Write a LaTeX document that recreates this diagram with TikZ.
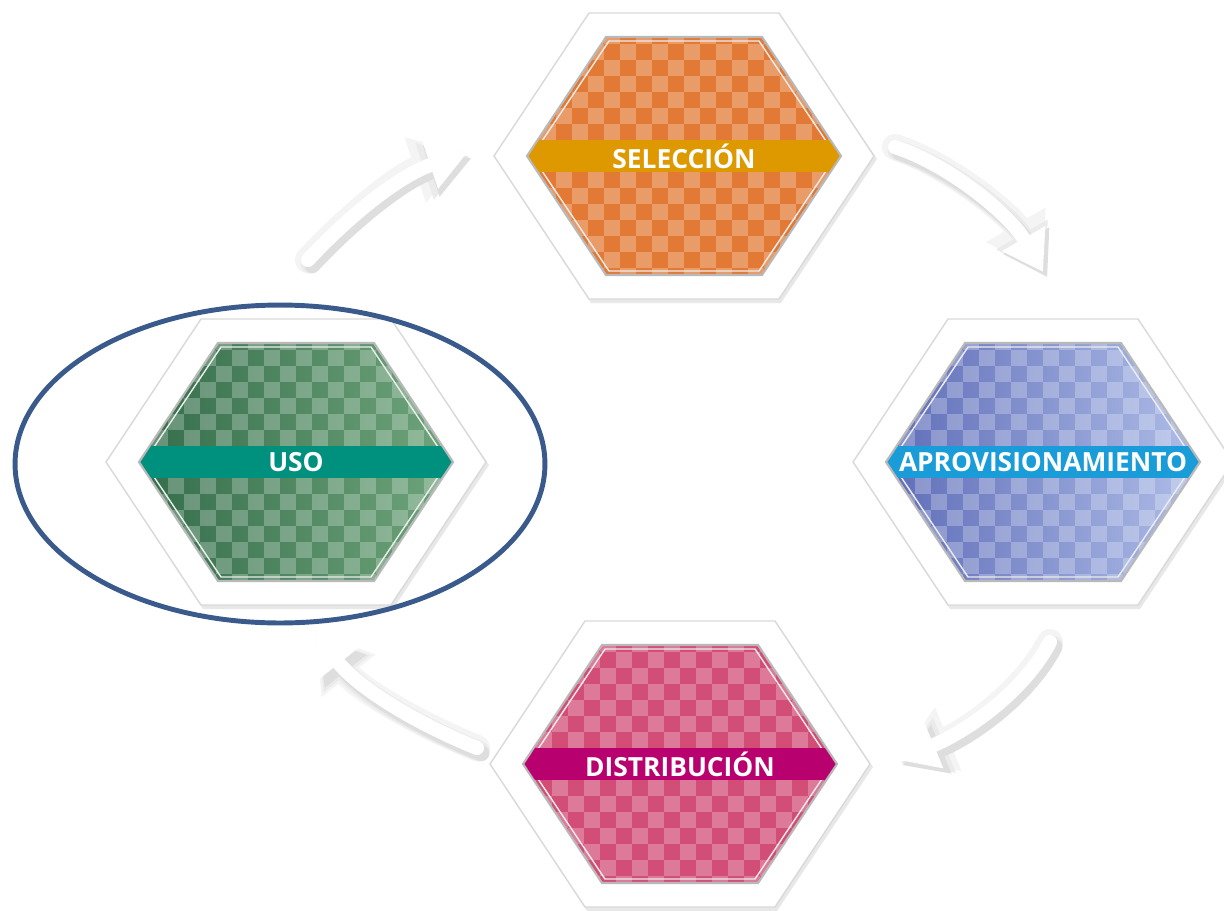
\documentclass[tikz,border=0pt]{standalone}
\usepackage{fontspec}
\setsansfont{Open Sans}
\usepackage{xcolor}
\usepackage{tikz}
\usetikzlibrary{shapes.geometric, arrows.meta, positioning}

\definecolor{naranja}{HTML}{E27A36}
\definecolor{naranjaB}{HTML}{DE9800}
\definecolor{azulL}{HTML}{5E6CB8}
\definecolor{azulR}{HTML}{AFBEE8}
\definecolor{azulB}{HTML}{1A9CD8}
\definecolor{verdeL}{HTML}{336C4A}
\definecolor{verdeR}{HTML}{70A67C}
\definecolor{verdeB}{HTML}{00907E}
\definecolor{rosa}{HTML}{D24E77}
\definecolor{rosaB}{HTML}{B8006E}
\definecolor{marco}{HTML}{3A5A8C}

% hexagon cell: name, center, left colour, right colour, band colour, label
\newcommand{\hexcelda}[6]{%
  \begin{scope}[shift={#2}]
    \fill[gray!18] (-188,3) -- (-93,147) -- (97,147) -- (193,3) -- (97,-140) -- (-93,-140) -- cycle;
    \filldraw[hexout] (-190,0) -- (-95,-143) -- (95,-143) -- (190,0) -- (95,143) -- (-95,143) -- cycle;
    \begin{scope}
      \clip (-157,0) -- (-78,-119) -- (78,-119) -- (157,0) -- (78,119) -- (-78,119) -- cycle;
      \shade[left color=#3, right color=#4] (-160,-128) rectangle (160,128);
      \foreach \i in {0,...,19} \foreach \j in {0,...,15} {
        \ifodd\numexpr\i+\j\relax
          \fill[white, fill opacity=0.25] ({-160+16*\i},{-128+16*\j}) rectangle +(16,16);
        \fi
      }
      \draw[white!85!gray, line width=0.8pt] (-152,0) -- (-75,-115) -- (75,-115) -- (152,0) -- (75,115) -- (-75,115) -- cycle;
      \fill[#5] (-160,-16) rectangle (160,16);
    \end{scope}
    \draw[hexin] (-157,0) -- (-78,-119) -- (78,-119) -- (157,0) -- (78,119) -- (-78,119) -- cycle;
    \node[etiqueta] (#1) at (0,0) {#6};
  \end{scope}}

\begin{document}
\begin{tikzpicture}[x=0.02cm, y=-0.02cm,
        hexout/.style={fill=white, draw=gray!30, line width=0.8pt},
        hexin/.style={draw=gray!55, line width=1.2pt},
        etiqueta/.style={font=\sffamily\bfseries\fontsize{15}{15}\selectfont, text=white, inner sep=0pt},
        flecha/.style={draw=white, line width=8pt, line cap=round, -{Triangle[width=27pt,length=22pt]}},
        sombra1/.style={draw=gray!9, line width=15pt, line cap=round, -{Triangle[width=37pt,length=31pt]}},
        sombra2/.style={draw=gray!16, line width=11.5pt, line cap=round, -{Triangle[width=32pt,length=27pt]},
                       transform canvas={shift={(1.5pt,-2pt)}}},
        sombra3/.style={draw=gray!26, line width=9pt, line cap=round, -{Triangle[width=28.5pt,length=24pt]},
                       transform canvas={shift={(2.5pt,-3pt)}}}
    ]
    \useasboundingbox (0,0) rectangle (1224,910);

    % the four cells
    \hexcelda{selec}{(684,156)}{naranja}{naranja}{naranjaB}{SELECCIÓN}
    \hexcelda{aprov}{(1043,462)}{azulL}{azulR}{azulB}{APROVISIONAMIENTO}
    \hexcelda{distr}{(680,764)}{rosa}{rosa}{rosaB}{DISTRIBUCIÓN}
    \hexcelda{uso}{(296,462)}{verdeL}{verdeR}{verdeB}{USO}

    % arrow ends
    \coordinate (a1) at (308,260);
    \coordinate (b1) at (467,153);
    \coordinate (a2) at (895,147);
    \coordinate (b2) at (1043,272);
    \coordinate (a3) at (1050,642);
    \coordinate (b3) at (898,760);
    \coordinate (a4) at (477,748);
    \coordinate (b4) at (315,633);

    % Arrows
    \foreach \s in {sombra1, sombra2, sombra3, flecha} {
        \draw[\s] (a1) .. controls +(42,-45) and +(-67,22) .. (b1);
        \draw[\s] (a2) .. controls +(55,18) and +(-33,-57) .. (b2);
        \draw[\s] (a3) .. controls +(-25,48) and +(72,-30) .. (b3);
        \draw[\s] (a4) .. controls +(-57,-23) and +(45,57) .. (b4);
    }

    % highlight round USO
    \node[ellipse, draw=marco, line width=2.8pt, minimum width=10.6cm, minimum height=6.36cm] (foco) at (280,464) {};

\end{tikzpicture}
\end{document}
